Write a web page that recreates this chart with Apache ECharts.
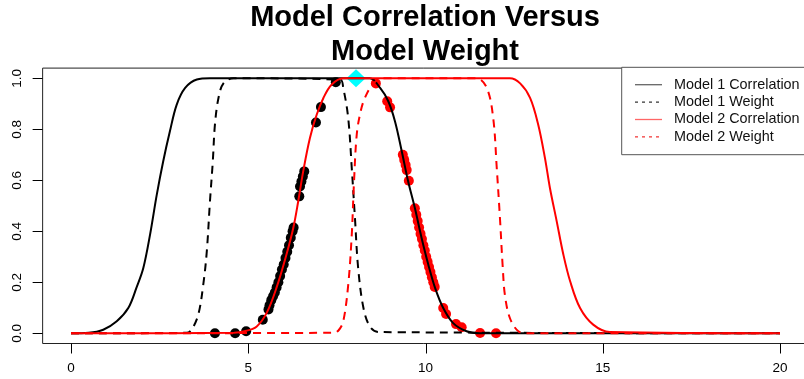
<!DOCTYPE html>
<html>
<head>
<meta charset="utf-8">
<script src="https://cdn.jsdelivr.net/npm/echarts@6/dist/echarts.min.js"></script>
<style>
  html, body { margin: 0; padding: 0; background: #fff; }
  #chart { width: 804px; height: 379px; }
</style>
</head>
<body>
<div id="chart"></div>
<script>
// curves (x, y pairs)
const m1CorrX = [0, 0.5, 0.91, 1.29, 1.62, 1.85, 2.04, 2.23, 2.42, 2.60, 2.79, 2.98, 3.22, 3.55, 3.92, 8.43, 8.72, 8.95, 9.14, 9.33, 9.51, 9.70, 9.89, 10.08, 10.27, 10.50, 10.78, 11.16, 11.54, 20];
const m1CorrY = [0, 0.002, 0.014, 0.047, 0.10, 0.18, 0.256, 0.387, 0.544, 0.674, 0.792, 0.896, 0.962, 0.995, 1.0, 1.0, 0.962, 0.91, 0.831, 0.714, 0.596, 0.491, 0.374, 0.269, 0.178, 0.099, 0.04, 0.008, 0, 0];

const m1WeightX = [0, 3.26, 3.40, 3.59, 3.73, 3.83, 3.92, 4.0, 4.06, 4.16, 4.30, 4.58, 7.59, 7.68, 7.82, 7.92, 8.01, 8.10, 8.25, 8.43, 8.67, 20];
const m1WeightY = [0, 0.002, 0.014, 0.073, 0.19, 0.32, 0.518, 0.674, 0.818, 0.923, 0.98, 1.0, 0.995, 0.962, 0.844, 0.648, 0.452, 0.256, 0.099, 0.027, 0.005, 0];

const m2CorrX = [0, 4.6, 4.95, 5.24, 5.52, 5.80, 6.08, 6.27, 6.41, 6.55, 6.74, 6.93, 7.12, 7.35, 7.68, 12.38, 12.67, 12.95, 13.18, 13.37, 13.51, 13.70, 13.89, 14.08, 14.36, 14.73, 15.2, 20];
const m2CorrY = [0, 0.002, 0.01, 0.027, 0.08, 0.18, 0.31, 0.413, 0.518, 0.635, 0.766, 0.857, 0.923, 0.975, 1.0, 1.0, 0.98, 0.923, 0.818, 0.687, 0.57, 0.44, 0.308, 0.204, 0.099, 0.034, 0.005, 0];

const m2WeightX = [0, 7.4, 7.55, 7.68, 7.82, 7.92, 7.98, 8.06, 8.17, 8.29, 8.53, 8.8, 11.44, 11.73, 11.91, 12.01, 12.10, 12.18, 12.24, 12.38, 12.62, 12.9, 20];
const m2WeightY = [0, 0.002, 0.012, 0.047, 0.19, 0.387, 0.583, 0.779, 0.87, 0.923, 0.98, 1.0, 1.0, 0.962, 0.844, 0.648, 0.452, 0.256, 0.15, 0.06, 0.008, 0, 0];

// sampled points
const blackDotsX = [4.06, 4.63, 4.94, 5.41, 5.57, 5.60, 5.65, 5.70, 5.75, 5.80, 5.85, 5.90, 5.95, 6.00, 6.05, 6.10, 6.15, 6.20, 6.25, 6.28, 6.44, 6.46, 6.50, 6.54, 6.58, 6.91, 7.05, 7.47];
const blackDotsY = [0.0, 0.0, 0.008, 0.053, 0.093, 0.11, 0.13, 0.145, 0.16, 0.18, 0.20, 0.225, 0.25, 0.27, 0.295, 0.32, 0.345, 0.375, 0.40, 0.415, 0.537, 0.576, 0.595, 0.615, 0.635, 0.827, 0.887, 0.985];

const redDotsX = [8.60, 8.92, 9.00, 9.36, 9.40, 9.44, 9.47, 9.53, 9.70, 9.74, 9.78, 9.82, 9.86, 9.90, 9.94, 9.98, 10.02, 10.06, 10.10, 10.14, 10.18, 10.22, 10.26, 10.50, 10.58, 10.86, 11.02, 11.54, 11.99];
const redDotsY = [0.98, 0.91, 0.886, 0.70, 0.68, 0.66, 0.64, 0.598, 0.49, 0.465, 0.44, 0.415, 0.39, 0.37, 0.345, 0.325, 0.30, 0.28, 0.26, 0.24, 0.22, 0.20, 0.182, 0.099, 0.076, 0.036, 0.024, 0.001, 0];

const bestX = [8.04];
const bestY = [1.0];

const xTicks = [0, 5, 10, 15, 20];
const yTicks = [0, 0.2, 0.4, 0.6, 0.8, 1.0];

const legendNames = ['Model 1 Correlation', 'Model 1 Weight', 'Model 2 Correlation', 'Model 2 Weight'];
const legendColors = ['#666', '#000', '#ff6666', '#e00'];
const legendDashed = [false, true, false, true];

const zip = (xs, ys) => xs.map((x, i) => [x, ys[i]]);
const FONT = "'Liberation Sans', Arial, sans-serif";

const chart = echarts.init(document.getElementById('chart'));

const curve = (name, xs, ys, color, dashed) => ({
  name,
  type: 'line',
  data: zip(xs, ys),
  symbol: 'none',
  smooth: 0.35,
  clip: false,
  lineStyle: { color, width: 2, type: dashed ? [8, 6] : 'solid', cap: 'butt' },
  itemStyle: { color },
  silent: true,
});

const dots = (name, xs, ys, color, symbol, size) => ({
  name, type: 'scatter', data: zip(xs, ys), symbol, symbolSize: size, clip: false,
  itemStyle: { color, opacity: 1 }, silent: true,
});

// plot area is 0..20 x 0..1; R pads it 4% on each side, so the box sits outside the grid
const xMin = 0, xMax = 20, yMin = 0, yMax = 1;
const gridL = 71, gridT = 78.3, gridW = 709, gridH = 255;
const padX = gridW * 0.04, padY = gridH * 0.04;
const boxL = gridL - padX, boxB = gridT + gridH + padY;

const graphics = [{
  type: 'rect',
  shape: { x: boxL, y: gridT - padY, width: gridW + 2 * padX, height: gridH + 2 * padY },
  style: { fill: 'none', stroke: '#222', lineWidth: 1 },
  silent: true,
}];

// R-style outward ticks on the box edges
const tickLen = 10;
xTicks.forEach((v) => {
  const px = Math.round(gridL + (v - xMin) / (xMax - xMin) * gridW) + 0.5;
  graphics.push({ type: 'line', z: 200,
    shape: { x1: px, y1: boxB, x2: px, y2: boxB + tickLen }, style: { stroke: '#000', lineWidth: 1 } });
});
yTicks.forEach((v) => {
  const py = Math.round(gridT + gridH - (v - yMin) / (yMax - yMin) * gridH) + 0.5;
  graphics.push({ type: 'line', z: 200,
    shape: { x1: boxL - tickLen, y1: py, x2: boxL, y2: py }, style: { stroke: '#000', lineWidth: 1 } });
});

// hand-drawn legend box, like R's legend()
const legendTop = 67.3, legendLeft = 621.7, rowGap = 17.4;
graphics.push({
  type: 'rect',
  shape: { x: legendLeft, y: legendTop, width: 220, height: 87.4 },
  style: { fill: '#fff', stroke: '#555', lineWidth: 1 },
  z: 100,
});
legendNames.forEach((name, i) => {
  const y = legendTop + rowGap * (i + 1);
  graphics.push({
    type: 'line',
    shape: { x1: 635, y1: y, x2: 662, y2: y },
    style: { stroke: legendColors[i], lineWidth: legendDashed[i] ? 1 : 1.3, lineDash: legendDashed[i] ? [3, 4] : null },
    z: 101,
  });
  graphics.push({
    type: 'text',
    x: 674, y: y,
    style: { text: name, fill: '#111', font: '14.4px ' + FONT, verticalAlign: 'middle' },
    z: 101,
  });
});

chart.setOption({
  animation: false,
  backgroundColor: '#fff',
  textStyle: { fontFamily: FONT },
  title: {
    text: 'Model Correlation Versus\nModel Weight',
    left: 420,
    top: -4,
    textAlign: 'center',
    textStyle: { fontSize: 29, fontWeight: 'bold', color: '#000', lineHeight: 34, fontFamily: FONT },
  },
  grid: { left: gridL, top: gridT, width: gridW, height: gridH, show: false, outerBoundsMode: 'none' },
  xAxis: {
    type: 'value',
    min: xMin,
    max: xMax,
    interval: 5,
    offset: padY,
    axisLine: { show: false, onZero: false },
    axisTick: { show: false },
    axisLabel: { margin: 18, fontSize: 13.5, color: '#000', fontFamily: FONT },
    splitLine: { show: false },
  },
  yAxis: {
    type: 'value',
    min: yMin,
    max: yMax,
    interval: 0.2,
    offset: padX,
    axisLine: { show: false, onZero: false },
    axisTick: { show: false },
    axisLabel: { rotate: 90, margin: 18, fontSize: 13.5, color: '#000', fontFamily: FONT,
      formatter: (v) => v.toFixed(1) },
    splitLine: { show: false },
  },
  graphic: graphics,
  series: [
    curve('Model 1 Correlation', m1CorrX, m1CorrY, '#000', false),
    curve('Model 1 Weight', m1WeightX, m1WeightY, '#000', true),
    curve('Model 2 Correlation', m2CorrX, m2CorrY, '#ff0000', false),
    curve('Model 2 Weight', m2WeightX, m2WeightY, '#ff0000', true),
    dots('m2 samples', blackDotsX, blackDotsY, '#000', 'circle', 10),
    dots('m1 samples', redDotsX, redDotsY, '#ff0000', 'circle', 10),
    dots('best', bestX, bestY, '#00ffff', 'diamond', [19, 18]),
  ],
});
</script>
</body>
</html>
